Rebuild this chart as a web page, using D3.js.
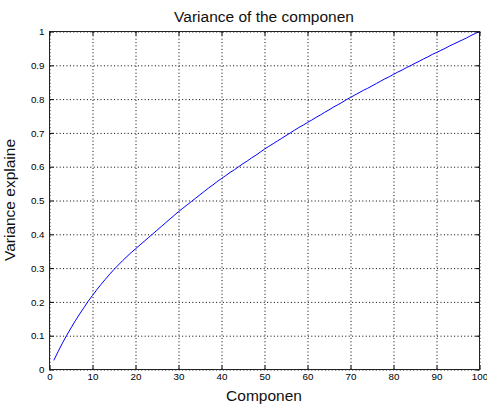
<!DOCTYPE html>
<html>
<head>
<meta charset="utf-8">
<script src="https://cdn.jsdelivr.net/npm/d3@7"></script>
<style>
  body { margin: 0; background: #fff; }
  svg { display: block; font-family: "Liberation Sans", Arial, sans-serif; }
</style>
</head>
<body>
<svg id="chart" width="487" height="406"></svg>
<script>
// cumulative variance explained, components 1..100
const components = d3.range(1, 101);
const varianceExplained = [
  0.027, 0.053, 0.078, 0.101, 0.123, 0.144, 0.164, 0.183, 0.202, 0.219,
  0.236, 0.252, 0.267, 0.282, 0.296, 0.309, 0.322, 0.334, 0.346, 0.357,
  0.368, 0.379, 0.390, 0.401, 0.412, 0.423, 0.434, 0.445, 0.456, 0.467,
  0.477, 0.487, 0.497, 0.507, 0.517, 0.527, 0.537, 0.546, 0.556, 0.565,
  0.574, 0.583, 0.591, 0.600, 0.609, 0.617, 0.626, 0.634, 0.643, 0.652,
  0.660, 0.668, 0.676, 0.684, 0.692, 0.700, 0.708, 0.716, 0.723, 0.731,
  0.738, 0.746, 0.753, 0.761, 0.768, 0.776, 0.783, 0.790, 0.798, 0.805,
  0.812, 0.819, 0.826, 0.832, 0.839, 0.846, 0.853, 0.860, 0.866, 0.873,
  0.880, 0.886, 0.893, 0.899, 0.906, 0.912, 0.919, 0.925, 0.932, 0.938,
  0.944, 0.950, 0.957, 0.963, 0.969, 0.975, 0.981, 0.988, 0.994, 1.000
];
const xTicks = [0, 10, 20, 30, 40, 50, 60, 70, 80, 90, 100];
const yTicks = [0, 0.1, 0.2, 0.3, 0.4, 0.5, 0.6, 0.7, 0.8, 0.9, 1];
const yTickLabels = ["0", "0.1", "0.2", "0.3", "0.4", "0.5", "0.6", "0.7", "0.8", "0.9", "1"];

const titleText = "Variance of the componen";
const xLabel = "Componen";
const yLabel = "Variance explaine";

const margin = { top: 31, right: 8, bottom: 37, left: 49 };
const width = 487 - margin.left - margin.right;
const height = 406 - margin.top - margin.bottom;

const x = d3.scaleLinear().domain([0, 100]).range([0, width]);
const y = d3.scaleLinear().domain([0, 1]).range([height, 0]);

const svg = d3.select("#chart");
const g = svg.append("g")
  .attr("transform", `translate(${margin.left + 0.5},${margin.top + 0.5})`);

// dotted grid
g.append("g")
  .attr("class", "grid")
  .attr("transform", `translate(0,${height})`)
  .call(d3.axisBottom(x).tickValues(xTicks).tickSize(-height).tickFormat(""));
g.append("g")
  .attr("class", "grid")
  .call(d3.axisLeft(y).tickValues(yTicks).tickSize(-width).tickFormat(""));
g.selectAll(".grid .domain").remove();
g.selectAll(".grid line")
  .attr("stroke", "#000")
  .attr("stroke-dasharray", "1,2.4");

// data line
const line = d3.line()
  .x((d, i) => x(components[i]))
  .y(d => y(d));

g.append("path")
  .datum(varianceExplained)
  .attr("fill", "none")
  .attr("stroke", "#0000ff")
  .attr("stroke-width", 1)
  .attr("d", line);

// axes with inward ticks on all sides
g.append("g")
  .attr("transform", `translate(0,${height})`)
  .call(d3.axisBottom(x).tickValues(xTicks).tickSizeInner(-4).tickSizeOuter(0).tickPadding(4));
g.append("g")
  .call(d3.axisLeft(y).tickValues(yTicks).tickSizeInner(-4).tickSizeOuter(0).tickPadding(5)
    .tickFormat((d, i) => yTickLabels[i]));
g.append("g")
  .call(d3.axisTop(x).tickValues(xTicks).tickSizeInner(-4).tickSizeOuter(0).tickFormat(""));
g.append("g")
  .attr("transform", `translate(${width},0)`)
  .call(d3.axisRight(y).tickValues(yTicks).tickSizeInner(-4).tickSizeOuter(0).tickFormat(""));

g.selectAll(".domain").remove();
g.selectAll(".tick text")
  .attr("fill", "#000")
  .style("font-size", "9.8px");

// box
g.append("rect")
  .attr("width", width)
  .attr("height", height)
  .attr("fill", "none")
  .attr("stroke", "#222");

// labels
svg.append("text")
  .attr("x", margin.left + width / 2)
  .attr("y", 22)
  .attr("text-anchor", "middle")
  .attr("fill", "#111")
  .style("font-size", "15.5px")
  .text(titleText);

svg.append("text")
  .attr("x", margin.left + width / 2)
  .attr("y", 401)
  .attr("text-anchor", "middle")
  .attr("fill", "#111")
  .style("font-size", "15.5px")
  .text(xLabel);

svg.append("text")
  .attr("transform", `translate(14.5,${margin.top + height / 2}) rotate(-90)`)
  .attr("text-anchor", "middle")
  .attr("fill", "#111")
  .style("font-size", "15.5px")
  .text(yLabel);
</script>
</body>
</html>
